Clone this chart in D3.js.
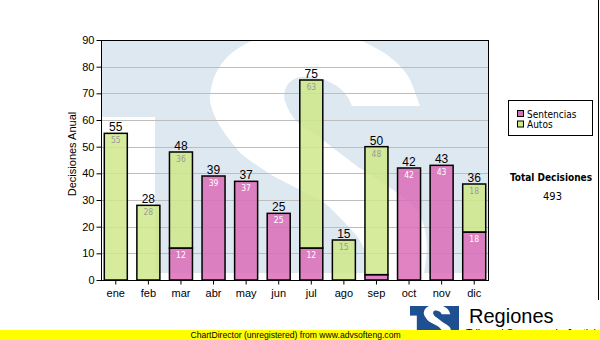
<!DOCTYPE html>
<html>
<head>
<meta charset="utf-8">
<script src="https://cdn.jsdelivr.net/npm/d3@7/dist/d3.min.js"></script>
<style>
  html, body { margin: 0; padding: 0; background: #fff; }
  svg { display: block; }
</style>
</head>
<body>
<div id="chart"></div>
<script>
// Decisiones por mes: sentencias y autos (barras apiladas)
const months = ["ene", "feb", "mar", "abr", "may", "jun", "jul", "ago", "sep", "oct", "nov", "dic"];
const sentencias = [0, 0, 12, 39, 37, 25, 12, 0, 2, 42, 43, 18];
const autos = [55, 28, 36, 0, 0, 0, 63, 15, 48, 0, 0, 18];
const seriesNames = ["Sentencias", "Autos"];
const yTickValues = [0, 10, 20, 30, 40, 50, 60, 70, 80, 90];
const totalLabel = "Total Decisiones";

const W = 600, H = 340;
const plot = { left: 101, right: 489, top: 40, bottom: 280 };
const colors = { Sentencias: "#dc6cb8", Autos: "#cfe88a" };
const AXIS_FONT = "'Liberation Sans', Arial, sans-serif";
const UI_FONT = "'DejaVu Sans Condensed', 'DejaVu Sans', Tahoma, sans-serif";

const rows = months.map((m, i) => ({ month: m, Sentencias: sentencias[i], Autos: autos[i] }));
const totals = rows.map(r => r.Sentencias + r.Autos);
const grandTotal = d3.sum(totals);

const svg = d3.select("#chart").append("svg")
  .attr("width", W).attr("height", H)
  .attr("viewBox", `0 0 ${W} ${H}`);

const x = d3.scaleBand().domain(months).range([99.5, 490.5])
  .paddingInner(0.294).paddingOuter(0.147);
const y = d3.scaleLinear().domain([0, 90]).range([plot.bottom, plot.top]);
const snap = v => Math.round(v) + 0.5;

// ---- Logo shape (blue block with a white "S"), defined in a 388 x 232 frame
const logoW = 388, logoH = 232;
const sPath = "M319 65 L251 65 C244 43 219 34 199 36 C187 38 181 50 184 60 " +
  "C189 76 199 86 214 93 L257 126 C284 143 299 153 307 160 " +
  "C324 173 329 198 324 226 L319 258 L264 258 L267 226 " +
  "C265 208 259 198 254 193 C239 176 229 166 221 160 L172 135 " +
  "C149 120 139 113 136 108 C119 88 111 73 109 60 " +
  "C109 38 119 13 151 0 C174 -14 239 -14 261 0 C289 13 304 26 311 43 Z";

function drawLogo(g, fill, id) {
  const cp = svg.append("clipPath").attr("id", id);
  cp.append("rect").attr("width", logoW).attr("height", logoH);
  const inner = g.append("g").attr("clip-path", `url(#${id})`);
  inner.append("rect").attr("width", logoW).attr("height", logoH).attr("fill", fill);
  inner.append("rect").attr("x", 0).attr("y", 76).attr("width", 54).attr("height", logoH)
    .attr("fill", "#fff");
  inner.append("path").attr("d", sPath).attr("fill", "#fff");
}

// Plot background with the watermark
const clipPlot = svg.append("clipPath").attr("id", "plotClip");
clipPlot.append("rect").attr("x", plot.left).attr("y", plot.top)
  .attr("width", plot.right - plot.left).attr("height", plot.bottom - plot.top);
const bg = svg.append("g").attr("clip-path", "url(#plotClip)");
bg.append("rect").attr("x", plot.left).attr("y", plot.top)
  .attr("width", plot.right - plot.left).attr("height", plot.bottom - plot.top).attr("fill", "#fff");
drawLogo(bg.append("g").attr("transform", `translate(${plot.left},${plot.top + 1})`), "#dee8f1", "wmClip");

// Horizontal grid
svg.append("g").selectAll("line").data(yTickValues.filter(v => v > 0 && v < 90)).join("line")
  .attr("x1", plot.left).attr("x2", plot.right)
  .attr("y1", d => snap(y(d))).attr("y2", d => snap(y(d)))
  .attr("stroke", "#bdbdbd").attr("stroke-width", 1);

// Stacked bars
const stack = d3.stack().keys(seriesNames);
const layers = stack(rows);
const barG = svg.append("g");
layers.forEach(layer => {
  const key = layer.key;
  const segs = layer.map((d, i) => ({ key, month: months[i], y0: d[0], y1: d[1], value: d[1] - d[0] }))
    .filter(s => s.value > 0);
  barG.append("g").selectAll("rect").data(segs).join("rect")
    .attr("x", d => x(d.month))
    .attr("y", d => y(d.y1))
    .attr("width", x.bandwidth())
    .attr("height", d => y(d.y0) - y(d.y1))
    .attr("fill", colors[key]).attr("fill-opacity", 0.85)
    .attr("stroke", "#000").attr("stroke-width", 1.5);
  // Segment values, shown when the segment is tall enough
  barG.append("g").selectAll("text").data(segs.filter(s => y(s.y0) - y(s.y1) > 10)).join("text")
    .attr("x", d => x(d.month) + x.bandwidth() / 2)
    .attr("y", d => y(d.y1) + 10)
    .attr("text-anchor", "middle")
    .attr("font-family", UI_FONT).attr("font-size", 8.5)
    .attr("fill", key === "Autos" ? "#9a9a9a" : "#ffffff")
    .text(d => d.value);
});

// Totals above each bar
svg.append("g").selectAll("text").data(rows).join("text")
  .attr("x", d => x(d.month) + x.bandwidth() / 2)
  .attr("y", (d, i) => y(totals[i]) - 2)
  .attr("text-anchor", "middle")
  .attr("font-family", AXIS_FONT).attr("font-size", 12).attr("fill", "#000")
  .text((d, i) => totals[i]);

// Plot frame
svg.append("rect").attr("x", plot.left + 0.5).attr("y", plot.top + 0.5)
  .attr("width", plot.right - plot.left - 1).attr("height", plot.bottom - plot.top)
  .attr("fill", "none").attr("stroke", "#000").attr("stroke-width", 1);

// Axes
const yAxis = svg.append("g").attr("transform", `translate(${plot.left + 0.5},0)`)
  .call(d3.axisLeft(y).tickValues(yTickValues).tickSize(5).tickPadding(2));
const xAxis = svg.append("g").attr("transform", `translate(0,${plot.bottom + 0.5})`)
  .call(d3.axisBottom(x).tickSize(4).tickPadding(5));
[yAxis, xAxis].forEach(a => {
  a.select(".domain").remove();
  a.selectAll("line").attr("stroke", "#000");
  a.selectAll("text").attr("font-family", AXIS_FONT).attr("font-size", 11).attr("fill", "#000");
});

// Y axis title
svg.append("text")
  .attr("transform", "translate(76,154) rotate(-90)")
  .attr("text-anchor", "middle")
  .attr("font-family", AXIS_FONT).attr("font-size", 11).attr("fill", "#000")
  .text("Decisiones Anual");

// Legend
const legend = svg.append("g");
legend.append("rect").attr("x", 508.5).attr("y", 100.5).attr("width", 84).attr("height", 35)
  .attr("fill", "#fff").attr("stroke", "#000");
seriesNames.forEach((name, i) => {
  const ly = 110 + i * 10.5;
  legend.append("rect").attr("x", 517.5).attr("y", ly + 0.5).attr("width", 6).attr("height", 6)
    .attr("fill", colors[name]).attr("stroke", "#000");
  legend.append("text").attr("x", 527).attr("y", ly + 7.5)
    .attr("font-family", UI_FONT).attr("font-size", 10).attr("fill", "#000")
    .text(name);
});

// Grand total
svg.append("text").attr("x", 551).attr("y", 181).attr("text-anchor", "middle")
  .attr("font-family", UI_FONT).attr("font-size", 10).attr("font-weight", "bold")
  .text(totalLabel);
svg.append("text").attr("x", 552.5).attr("y", 200).attr("text-anchor", "middle")
  .attr("font-family", UI_FONT).attr("font-size", 11)
  .text(grandTotal);

// Right page border
svg.append("line").attr("x1", 598.5).attr("x2", 598.5).attr("y1", 0).attr("y2", 300)
  .attr("stroke", "#000");

// Footer logo and name (the subtitle line sits partly under the banner)
drawLogo(svg.append("g").attr("transform", "translate(410,306) scale(0.1263)"), "#1d4f91", "logoClip");
svg.append("text").attr("x", 469).attr("y", 322.5)
  .attr("font-family", AXIS_FONT).attr("font-size", 20).attr("fill", "#000")
  .text("Regiones");
svg.append("text").attr("x", 466).attr("y", 337)
  .attr("font-family", AXIS_FONT).attr("font-size", 10.5).attr("fill", "#000")
  .text("Tribunal Supremo de Justicia");

// Library banner
svg.append("rect").attr("x", 0).attr("y", 330).attr("width", W).attr("height", 10).attr("fill", "#ffff00");
svg.append("text").attr("x", 295.5).attr("y", 338)
  .attr("text-anchor", "middle")
  .attr("font-family", AXIS_FONT).attr("font-size", 8.6).attr("fill", "#000")
  .text("ChartDirector (unregistered) from www.advsofteng.com");
</script>
</body>
</html>
